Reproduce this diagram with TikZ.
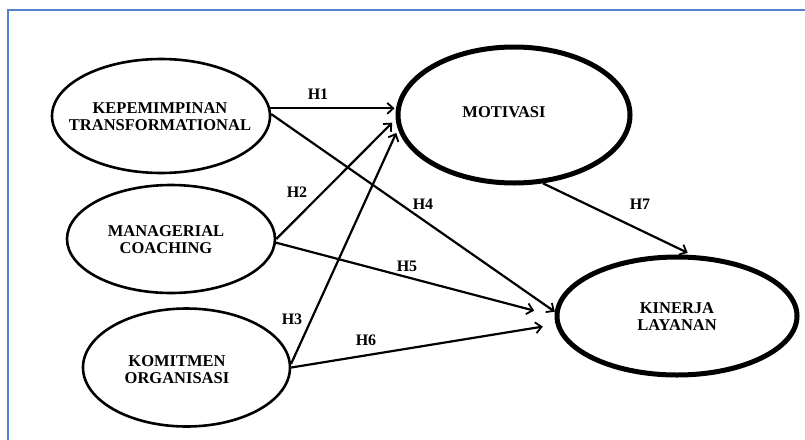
\documentclass[tikz,border=0pt]{standalone}
\usepackage{fontspec}
\setmainfont{Liberation Serif}
\usetikzlibrary{shapes.geometric,arrows.meta}
\definecolor{frameblue}{RGB}{84,130,205}
\tikzset{
  latent/.style={draw=black, ellipse, inner sep=0pt},
  thinlat/.style={latent, line width=2.6pt},
  thicklat/.style={latent, line width=5pt},
  ltext/.style={align=center, inner sep=0pt,
    font=\bfseries\fontsize{16.5}{17}\selectfont},
  path/.style={draw=black, line width=2.2pt,
    -{Straight Barb[length=6pt,width=11pt,line width=1.8pt]}},
  lab/.style={font=\bfseries\fontsize{16}{17}\selectfont, inner sep=0pt}
}
\begin{document}
\begin{tikzpicture}[x=1pt,y=-1pt]
\useasboundingbox (0,0) rectangle (805,439);
\fill[white] (0,0) rectangle (805,439);
\draw[frameblue, line width=2.6pt] (8,10) rectangle (830,460);

\node[thinlat, minimum width=218pt, minimum height=114pt] (kt) at (161,116) {};
\node[thinlat, minimum width=208pt, minimum height=108pt] (mc) at (171,239) {};
\node[thinlat, minimum width=207pt, minimum height=118pt] (ko) at (186.5,367.5) {};
\node[thicklat, minimum width=232pt, minimum height=136pt] (mot) at (514,115) {};
\node[thicklat, minimum width=240pt, minimum height=118pt] (kin) at (677,316) {};

\node[ltext] (ktl) at (160,117) {KEPEMIMPINAN\\TRANSFORMATIONAL};
\node[ltext] (mcl) at (166,240) {MANAGERIAL\\COACHING};
\node[ltext] (kol) at (177,370) {KOMITMEN\\ORGANISASI};
\node[ltext] (motl) at (504,112) {MOTIVASI};
\node[ltext] (kinl) at (677,317) {KINERJA\\LAYANAN};

\draw[path, shorten >=1pt] (kt.4) -- (kt.4 -| mot.west);
\draw[path] (kt.1) -- (kin.178);
\draw[path, shorten >=5pt] (mc.0) -- (mot.182);
\draw[path, shorten >=21pt] (mc.-2) -- (kin.180);
\draw[path, shorten >=4pt] (ko.2) -- (mot.187);
\draw[path, shorten >=13pt] (ko.east) -- (kin.184);
\draw[path, shorten >=5pt] (mot.293) -- (kin.76);

\node[lab] (l1) at (318,94) {H1};
\node[lab] (l2) at (297,192) {H2};
\node[lab] (l3) at (292,319) {H3};
\node[lab] (l4) at (423,204) {H4};
\node[lab] (l5) at (407,266) {H5};
\node[lab] (l6) at (366,340) {H6};
\node[lab] (l7) at (640,204) {H7};
\end{tikzpicture}
\end{document}
